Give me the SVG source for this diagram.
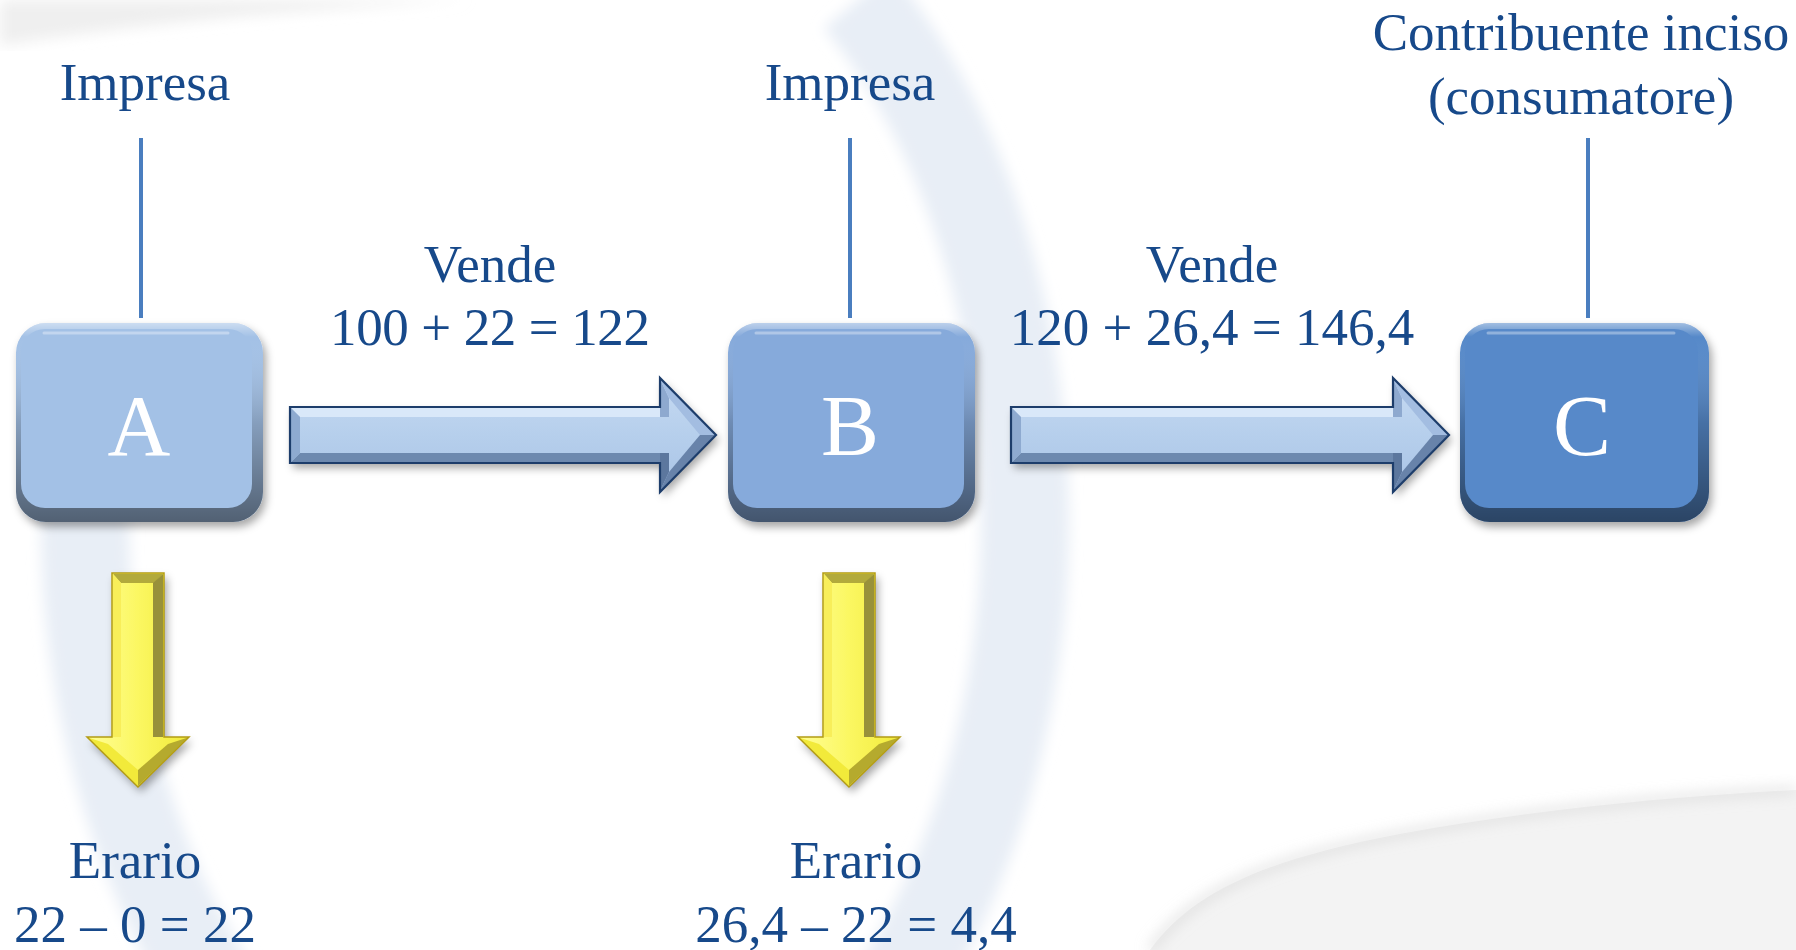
<svg xmlns="http://www.w3.org/2000/svg" width="1796" height="950" viewBox="0 0 1796 950">
<style>
.lbl{font-family:"Liberation Serif","Times New Roman",serif;font-size:53px;fill:#17498a;text-anchor:middle}
.big{font-family:"Liberation Serif","Times New Roman",serif;font-size:87px;fill:#ffffff;text-anchor:middle}
.vline{stroke:#4a7ebf;stroke-width:4;fill:none}
.bev{fill:url(#bevel)}
.hl{stroke:#ffffff;stroke-opacity:0.35;stroke-width:3;stroke-linecap:round;fill:none}
.aout{fill:none;stroke:#1d3d6b;stroke-width:2.2;stroke-linejoin:miter}
.yout{fill:none;stroke:#b39c14;stroke-width:1.5}
</style>
<defs>
<filter id="sh" x="-20%" y="-20%" width="140%" height="150%">
<feDropShadow dx="3" dy="5" stdDeviation="4" flood-color="#000" flood-opacity="0.35"/>
</filter>
<filter id="soft" x="-10%" y="-10%" width="120%" height="120%">
<feGaussianBlur stdDeviation="7"/>
</filter>
<linearGradient id="bevel" x1="0" y1="0" x2="0" y2="1">
<stop offset="0" stop-color="#fff" stop-opacity="0.45"/>
<stop offset="0.07" stop-color="#fff" stop-opacity="0"/>
<stop offset="0.5" stop-color="#000" stop-opacity="0.18"/>
<stop offset="1" stop-color="#000" stop-opacity="0.5"/>
</linearGradient>
<linearGradient id="aface" x1="0" y1="0" x2="0" y2="1">
<stop offset="0" stop-color="#c6daf2"/>
<stop offset="0.5" stop-color="#b6cfec"/>
<stop offset="1" stop-color="#a9c3e6"/>
</linearGradient>
<linearGradient id="yface" x1="0" y1="0" x2="1" y2="0">
<stop offset="0" stop-color="#fffe96"/>
<stop offset="0.5" stop-color="#fbf762"/>
<stop offset="1" stop-color="#f1ea3a"/>
</linearGradient>
</defs>

<rect width="1796" height="950" fill="#ffffff"/>
<g id="background">
<path d="M0,0 H470 C330,8 150,22 0,46 Z" fill="#efefef" filter="url(#soft)"/>
<path d="M858,0 A470,680 0 1 1 87.5,450" fill="none" stroke="#e8eef6" stroke-width="88" filter="url(#soft)"/>
<path d="M1150,950 C1190,895 1260,860 1400,834 C1520,812 1660,797 1796,790 V950 Z" fill="#f3f3f3"/>
<path d="M1150,950 C1190,895 1260,860 1400,834 C1520,812 1660,797 1796,790" fill="none" stroke="#d2d2d2" stroke-width="5" filter="url(#soft)"/>
</g>

<g id="connectors">
<line class="vline" x1="141" y1="138" x2="141" y2="318"/>
<line class="vline" x1="850" y1="138" x2="850" y2="318"/>
<line class="vline" x1="1588" y1="138" x2="1588" y2="318"/>

<g id="arrow-AB" transform="translate(290,435)">
<path d="M0,-28 H370 V-57 L426,0 L370,57 V28 H0 Z" fill="url(#aface)" filter="url(#sh)"/>
<path d="M1,-27 H370 V-18 H10 Z" fill="#d9e8f9"/>
<path d="M1,27 H370 V18 H10 Z" fill="#6d89af"/>
<path d="M1,-27 L10,-18 V18 L1,27 Z" fill="#8eaad0"/>
<path d="M370,-56 L379,-37 V-18 H370 Z" fill="#8ea9cf"/>
<path d="M370,-56 L425,0 L410,0 L379,-37 Z" fill="#a3bde1"/>
<path d="M425,0 L370,56 L379,37 L410,0 Z" fill="#6883aa"/>
<path d="M370,56 L379,37 V18 H370 Z" fill="#5c779e"/>
<path class="aout" d="M0,-28 H370 V-57 L426,0 L370,57 V28 H0 Z"/>
</g>

<g id="arrow-BC" transform="translate(1011,435)">
<path d="M0,-28 H382 V-57 L438,0 L382,57 V28 H0 Z" fill="url(#aface)" filter="url(#sh)"/>
<path d="M1,-27 H382 V-18 H10 Z" fill="#d9e8f9"/>
<path d="M1,27 H382 V18 H10 Z" fill="#6d89af"/>
<path d="M1,-27 L10,-18 V18 L1,27 Z" fill="#8eaad0"/>
<path d="M382,-56 L391,-37 V-18 H382 Z" fill="#8ea9cf"/>
<path d="M382,-56 L437,0 L422,0 L391,-37 Z" fill="#a3bde1"/>
<path d="M437,0 L382,56 L391,37 L422,0 Z" fill="#6883aa"/>
<path d="M382,56 L391,37 V18 H382 Z" fill="#5c779e"/>
<path class="aout" d="M0,-28 H382 V-57 L438,0 L382,57 V28 H0 Z"/>
</g>

<g id="arrow-A-erario" transform="translate(138,0)">
<path d="M-26,573 H26 V737 H51 L0,787 L-51,737 H-26 Z" fill="url(#yface)" filter="url(#sh)"/>
<path d="M-25,574 H25 L16,583 H-17 Z" fill="#b2aa3c"/>
<path d="M25,574 V737 H15 V583 Z" fill="#98913a"/>
<path d="M-25,574 L-17,583 V737 H-25 Z" fill="#f8ee5a"/>
<path d="M-50,737.5 L0,786 L0,770 L-30,744 Z" fill="#f2ea3a"/>
<path d="M50,737.5 L0,786 L0,770 L30,744 Z" fill="#b5aa2e"/>
<path class="yout" d="M-26,573 H26 V737 H51 L0,787 L-51,737 H-26 Z"/>
</g>

<g id="arrow-B-erario" transform="translate(849,0)">
<path d="M-26,573 H26 V737 H51 L0,787 L-51,737 H-26 Z" fill="url(#yface)" filter="url(#sh)"/>
<path d="M-25,574 H25 L16,583 H-17 Z" fill="#b2aa3c"/>
<path d="M25,574 V737 H15 V583 Z" fill="#98913a"/>
<path d="M-25,574 L-17,583 V737 H-25 Z" fill="#f8ee5a"/>
<path d="M-50,737.5 L0,786 L0,770 L-30,744 Z" fill="#f2ea3a"/>
<path d="M50,737.5 L0,786 L0,770 L30,744 Z" fill="#b5aa2e"/>
<path class="yout" d="M-26,573 H26 V737 H51 L0,787 L-51,737 H-26 Z"/>
</g>
</g>

<g id="node-A">
<rect x="16" y="323" width="247" height="199" rx="30" fill="#a3c1e6" filter="url(#sh)"/>
<rect class="bev" x="16" y="323" width="247" height="199" rx="30"/>
<rect x="21" y="329" width="231" height="179" rx="24" fill="#a3c1e6"/>
<line class="hl" x1="44" y1="333" x2="228" y2="333"/>
<text class="big" x="139" y="455">A</text>
</g>

<g id="node-B">
<rect x="728" y="323" width="247" height="199" rx="30" fill="#86aadb" filter="url(#sh)"/>
<rect class="bev" x="728" y="323" width="247" height="199" rx="30"/>
<rect x="733" y="329" width="231" height="179" rx="24" fill="#86aadb"/>
<line class="hl" x1="756" y1="333" x2="940" y2="333"/>
<text class="big" x="850" y="455">B</text>
</g>

<g id="node-C">
<rect x="1460" y="323" width="249" height="199" rx="30" fill="#5789c9" filter="url(#sh)"/>
<rect class="bev" x="1460" y="323" width="249" height="199" rx="30"/>
<rect x="1465" y="329" width="233" height="179" rx="24" fill="#5789c9"/>
<line class="hl" x1="1488" y1="333" x2="1674" y2="333"/>
<text class="big" x="1582" y="455">C</text>
</g>

<g id="label-impresa-A"><text class="lbl" x="145" y="100">Impresa</text></g>
<g id="label-impresa-B"><text class="lbl" x="850" y="100">Impresa</text></g>
<g id="label-consumatore">
<text class="lbl" x="1581" y="50">Contribuente inciso</text>
<text class="lbl" x="1581" y="114">(consumatore)</text>
</g>
<g id="label-vende-AB">
<text class="lbl" x="490" y="282">Vende</text>
<text class="lbl" x="490" y="345" textLength="320" lengthAdjust="spacing">100 + 22 = 122</text>
</g>
<g id="label-vende-BC">
<text class="lbl" x="1212" y="282">Vende</text>
<text class="lbl" x="1212" y="345">120 + 26,4 = 146,4</text>
</g>
<g id="label-erario-A">
<text class="lbl" x="135" y="878">Erario</text>
<text class="lbl" x="135" y="942">22 – 0 = 22</text>
</g>
<g id="label-erario-B">
<text class="lbl" x="856" y="878">Erario</text>
<text class="lbl" x="856" y="942">26,4 – 22 = 4,4</text>
</g>
</svg>
